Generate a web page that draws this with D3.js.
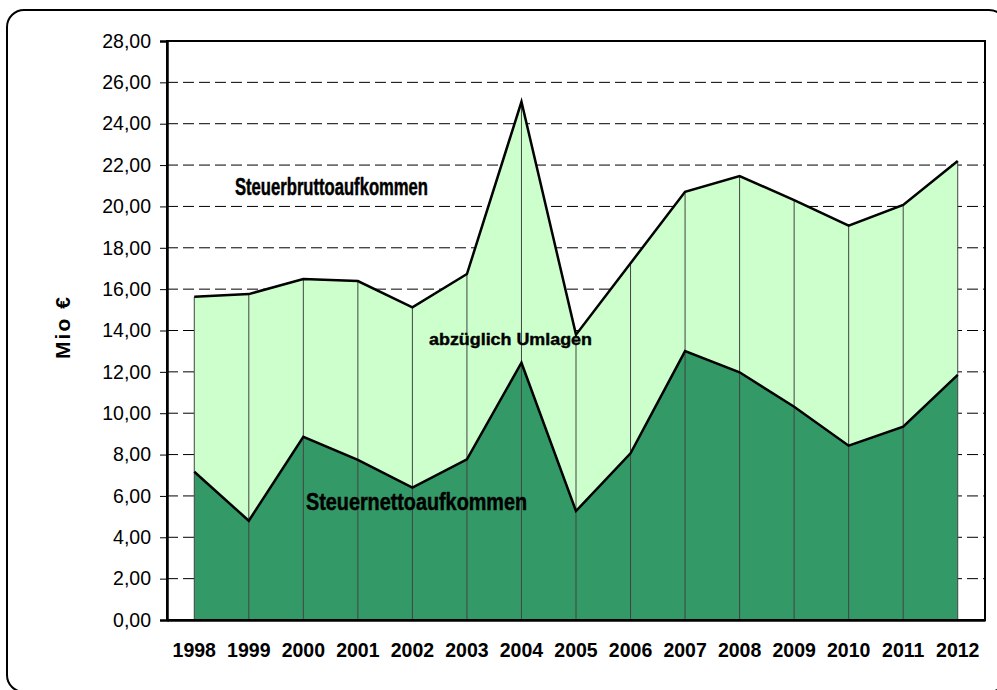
<!DOCTYPE html>
<html>
<head>
<meta charset="utf-8">
<script src="https://cdn.jsdelivr.net/npm/d3@7"></script>
<style>
  body { margin: 0; background: #fff; }
  svg { font-family: "Liberation Sans", Arial, sans-serif; }
</style>
</head>
<body>
<svg id="chart" width="997" height="690"></svg>
<script>
// Daten
var jahre = ["1998","1999","2000","2001","2002","2003","2004","2005","2006","2007","2008","2009","2010","2011","2012"];
var brutto = [15.63, 15.76, 16.49, 16.39, 15.12, 16.73, 25.06, 13.8, 17.25, 20.71, 21.47, 20.31, 19.07, 20.07, 22.2];
var netto = [7.17, 4.80, 8.86, 7.74, 6.40, 7.77, 12.44, 5.27, 8.06, 13.0, 11.98, 10.31, 8.43, 9.35, 11.85];
var yTicks = [0, 2, 4, 6, 8, 10, 12, 14, 16, 18, 20, 22, 24, 26, 28];

var margin = { top: 41, right: 12, bottom: 70, left: 167 };
var W = 997, H = 690;
var width = W - margin.left - margin.right,
    height = H - margin.top - margin.bottom;

var svg = d3.select("#chart");

// abgerundeter Rahmen
svg.append("rect")
  .attr("x", 7).attr("y", 10)
  .attr("width", 999).attr("height", 682)
  .attr("rx", 17).attr("ry", 17)
  .attr("fill", "none").attr("stroke", "#000").attr("stroke-width", 2);

var g = svg.append("g").attr("transform", "translate(" + margin.left + "," + margin.top + ")");

var x = d3.scaleBand().domain(jahre).range([0, width]);
var xc = function (j) { return x(j) + x.bandwidth() / 2; };
var y = d3.scaleLinear().domain([0, 28]).range([height, 0]);

// Gitterlinien
g.selectAll(".grid")
  .data(yTicks.filter(function (d) { return d > 0 && d < 28; }))
  .enter().append("line")
  .attr("x1", 0).attr("x2", width)
  .attr("y1", function (d) { return y(d); })
  .attr("y2", function (d) { return y(d); })
  .attr("stroke", "#000").attr("stroke-width", 1)
  .attr("stroke-dasharray", "11,5");

var data = jahre.map(function (j, i) { return { j: j, b: brutto[i], n: netto[i] }; });

var areaB = d3.area().x(function (d) { return xc(d.j); }).y0(y(0)).y1(function (d) { return y(d.b); });
var areaN = d3.area().x(function (d) { return xc(d.j); }).y0(y(0)).y1(function (d) { return y(d.n); });

g.append("path").datum(data).attr("d", areaB).attr("fill", "#CCFFCC");
g.append("path").datum(data).attr("d", areaN).attr("fill", "#339966");

// senkrechte Linien
g.selectAll(".drop")
  .data(data)
  .enter().append("line")
  .attr("x1", function (d) { return xc(d.j); })
  .attr("x2", function (d) { return xc(d.j); })
  .attr("y1", function (d) { return y(d.b); })
  .attr("y2", y(0))
  .attr("stroke", "#444").attr("stroke-width", 1);

var lineB = d3.line().x(function (d) { return xc(d.j); }).y(function (d) { return y(d.b); });
var lineN = d3.line().x(function (d) { return xc(d.j); }).y(function (d) { return y(d.n); });
g.append("path").datum(data).attr("d", lineB).attr("fill", "none").attr("stroke", "#000").attr("stroke-width", 2.5);
g.append("path").datum(data).attr("d", lineN).attr("fill", "none").attr("stroke", "#000").attr("stroke-width", 2.5);

// Plotrahmen
g.append("rect").attr("x", 0).attr("y", 0).attr("width", width).attr("height", height)
  .attr("fill", "none").attr("stroke", "#000").attr("stroke-width", 2);

// Achsen
var yAxis = g.append("g")
  .call(d3.axisLeft(y).tickValues(yTicks).tickSize(7).tickPadding(9)
    .tickFormat(function (d) { return d3.format(".2f")(d).replace(".", ","); }));
yAxis.select(".domain").attr("stroke-width", 2.5);
yAxis.selectAll("text").attr("font-size", 19.5).attr("fill", "#000");

var xAxis = g.append("g").attr("transform", "translate(0," + height + ")")
  .call(d3.axisBottom(x).tickSize(0).tickPadding(23));
xAxis.select(".domain").attr("stroke-width", 2.5);
xAxis.selectAll("text").attr("font-size", 19.5).attr("font-weight", "bold").attr("fill", "#000");

// Achsentitel
svg.append("text")
  .attr("transform", "translate(70,328) rotate(-90)")
  .attr("text-anchor", "middle")
  .attr("font-size", 21).attr("font-weight", "bold")
  .attr("textLength", 62).attr("lengthAdjust", "spacing")
  .text("Mio €");

// Beschriftungen
svg.append("text")
  .attr("x", 235).attr("y", 195)
  .attr("font-size", 23).attr("font-weight", "bold")
  .attr("font-family", "'Liberation Sans Narrow', 'Liberation Sans', sans-serif")
  .attr("textLength", 193).attr("lengthAdjust", "spacingAndGlyphs")
  .attr("stroke", "#000").attr("stroke-width", 0.5)
  .text("Steuerbruttoaufkommen");

svg.append("text")
  .attr("x", 306).attr("y", 510)
  .attr("font-size", 24).attr("font-weight", "bold")
  .attr("font-family", "'Liberation Sans Narrow', 'Liberation Sans', sans-serif")
  .attr("textLength", 221).attr("lengthAdjust", "spacingAndGlyphs")
  .attr("stroke", "#000").attr("stroke-width", 0.5)
  .text("Steuernettoaufkommen");

svg.append("text")
  .attr("x", 429).attr("y", 345)
  .attr("font-size", 16).attr("font-weight", "bold")
  .attr("textLength", 163).attr("lengthAdjust", "spacingAndGlyphs")
  .attr("stroke", "#000").attr("stroke-width", 0.4)
  .text("abzüglich Umlagen");
</script>
</body>
</html>
